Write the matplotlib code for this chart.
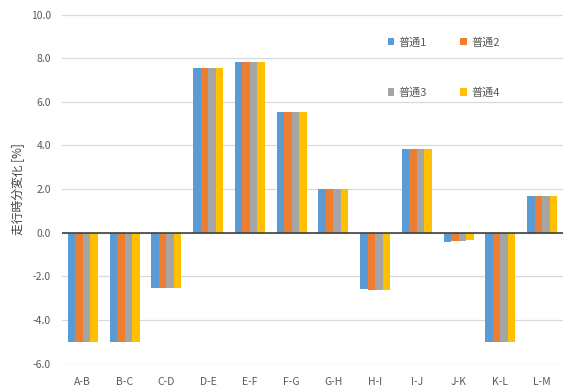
import numpy as np
import matplotlib
matplotlib.use("Agg")
import matplotlib.pyplot as plt

plt.rcParams['font.family'] = ['Noto Sans CJK JP', 'DejaVu Sans']

categories = ["A-B", "B-C", "C-D", "D-E", "E-F", "F-G", "G-H", "H-I", "I-J", "J-K", "K-L", "L-M"]
series_names = ["普通1", "普通2", "普通3", "普通4"]
futsu1 = [-5.0, -5.0, -2.52, 7.54, 7.84, 5.54, 2.0, -2.60, 3.83, -0.42, -5.0, 1.68]
futsu2 = [-5.0, -5.0, -2.52, 7.54, 7.84, 5.52, 2.0, -2.61, 3.83, -0.40, -5.0, 1.68]
futsu3 = [-5.0, -5.0, -2.52, 7.54, 7.84, 5.52, 2.0, -2.63, 3.83, -0.36, -5.0, 1.68]
futsu4 = [-5.0, -5.0, -2.52, 7.54, 7.84, 5.52, 2.0, -2.65, 3.83, -0.33, -5.0, 1.68]
colors = ["#5B9BD5", "#ED7D31", "#A5A5A5", "#FFC000"]
y_label = "走行時分変化 [%]"

fig = plt.figure(figsize=(5.7, 3.89), dpi=100)
ax = fig.add_axes([62/570, 25.5/389, 501/570, 348.8/389])

x = np.arange(len(categories))
w = 0.18
all_series = [futsu1, futsu2, futsu3, futsu4]
handles = []
for i, (vals, name, c) in enumerate(zip(all_series, series_names, colors)):
    handles.append(ax.bar(x + (i - 1.5) * w, vals, width=w, color=c, label=name, zorder=3))

ax.set_xlim(-0.5, len(categories) - 0.5)
ax.set_ylim(-6, 10)
ax.set_yticks(np.arange(-6, 10.1, 2))
ax.set_yticklabels([f"{v:.1f}" for v in np.arange(-6, 10.1, 2)])
ax.set_xticks(x)
ax.set_xticklabels(categories)
ax.tick_params(axis='both', length=0, labelsize=7.5, labelcolor="#595959")
ax.tick_params(axis='x', pad=10)
ax.tick_params(axis='y', pad=8)
ax.grid(axis='y', color="#D9D9D9", linewidth=0.9, zorder=0)
for s in ax.spines.values():
    s.set_visible(False)
ax.axhline(0, color="#404040", linewidth=1.2, zorder=4)

ax.set_ylabel(y_label, fontsize=8.5, color="#404040", labelpad=4)

# two columns filled row by row: 1 2 / 3 4
order = [0, 2, 1, 3]
leg = ax.legend([handles[i] for i in order], [series_names[i] for i in order],
                ncol=2, loc="upper left", bbox_to_anchor=(0.63, 0.965),
                frameon=False, fontsize=8, handlelength=0.6, handleheight=0.6,
                handletextpad=0.4, columnspacing=3.0, labelspacing=3.6)
for t in leg.get_texts():
    t.set_color("#595959")

fig.savefig("out.png", dpi=100, facecolor="white")
